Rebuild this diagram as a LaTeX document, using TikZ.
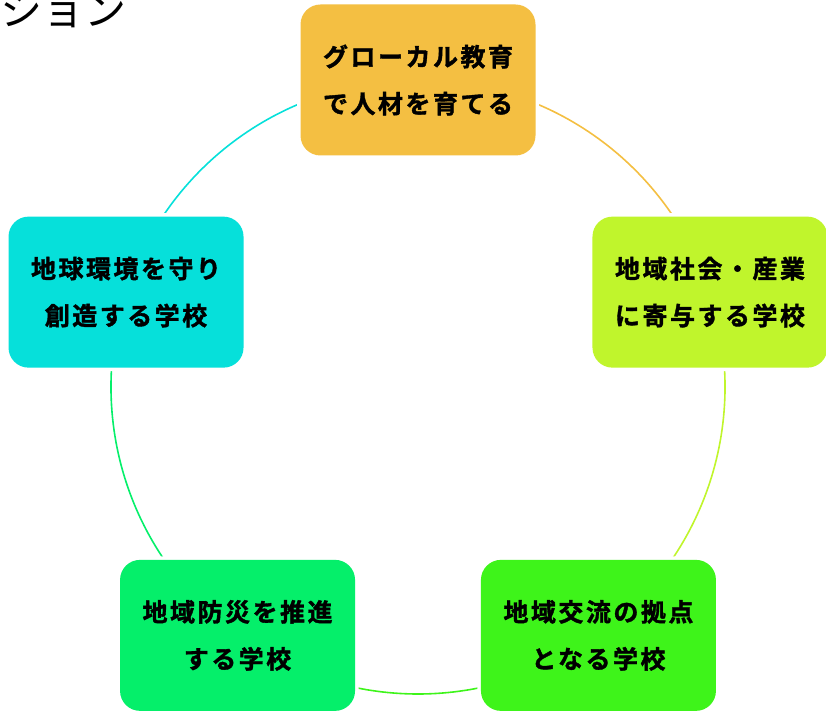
\documentclass[tikz,border=0pt]{standalone}
\usepackage{fontspec}
\setmainfont{Noto Sans CJK JP}
\newfontfamily\boxfont{Noto Sans CJK JP Bold}[LetterSpace=10, FakeBold=1.5]
\usetikzlibrary{calc}
\pgfdeclarelayer{bg}
\pgfsetlayers{bg,main}
\definecolor{cTop}{HTML}{F4BF42}
\definecolor{cRight}{HTML}{C0F52C}
\definecolor{cLeft}{HTML}{06E0DA}
\definecolor{cBL}{HTML}{05EF6A}
\definecolor{cBR}{HTML}{3EF41A}
\tikzset{
  cyclebox/.style={rounded corners=20pt, minimum width=235pt, minimum height=151pt,
    inner sep=0pt, align=center, text=black,
    font=\boxfont\fontsize{25}{47}\selectfont,
    preaction={draw=white, line width=7pt}},
  cyclearc/.style={line width=1.6pt}
}
\begin{document}
\begin{tikzpicture}[x=1pt,y=1pt]
\useasboundingbox (0,0) rectangle (826,713);
\coordinate (c) at (418,326);
\node[anchor=base west, font=\fontsize{42}{42}\selectfont, inner sep=0pt] (title) at (0,687) {ション};
\node[cyclebox, fill=cTop] (top) at ($(c)+(90:307)$) {グローカル教育\\で人材を育てる};
\node[cyclebox, fill=cRight] (right) at ($(c)+(18:307)$) {地域社会・産業\\に寄与する学校};
\node[cyclebox, fill=cBR] (br) at ($(c)+(-54:307)$) {地域交流の拠点\\となる学校};
\node[cyclebox, fill=cBL] (bl) at ($(c)+(-126:307)$) {地域防災を推進\\する学校};
\node[cyclebox, fill=cLeft] (left) at ($(c)+(162:307)$) {地球環境を守り\\創造する学校};
\begin{pgfonlayer}{bg}
\draw[cyclearc, cTop] (top.center) arc[start angle=90, end angle=18, radius=307pt];
\draw[cyclearc, cRight] (right.center) arc[start angle=18, end angle=-54, radius=307pt];
\draw[cyclearc, cBR] (br.center) arc[start angle=-54, end angle=-126, radius=307pt];
\draw[cyclearc, cBL] (bl.center) arc[start angle=-126, end angle=-198, radius=307pt];
\draw[cyclearc, cLeft] (left.center) arc[start angle=162, end angle=90, radius=307pt];
\end{pgfonlayer}
\end{tikzpicture}
\end{document}
